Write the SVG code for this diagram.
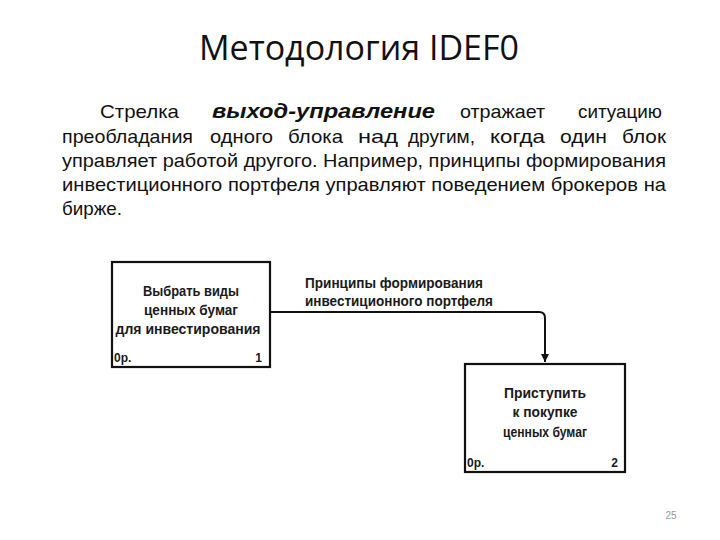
<svg xmlns="http://www.w3.org/2000/svg" width="720" height="540" viewBox="0 0 720 540">
<style>
.title{font-family:"Open Sans","Liberation Sans",sans-serif;font-size:34px;fill:#111}
.p{font-family:"Liberation Sans Narrow","Liberation Sans",sans-serif;font-size:19px;fill:#111}
.bi{font-weight:bold;font-style:italic;font-size:20px}
.box{fill:#fff;stroke:#111;stroke-width:2.2}
.bt{font-family:"Liberation Sans Narrow","Liberation Sans",sans-serif;font-size:15px;font-weight:bold;fill:#1a1a1a}
.sm{font-family:"Liberation Sans Narrow","Liberation Sans",sans-serif;font-size:12px;font-weight:bold;fill:#1a1a1a}
.conn{fill:none;stroke:#111;stroke-width:2}
.pg{font-family:"Liberation Sans",sans-serif;font-size:10px;fill:#999}
</style>
<defs>
<marker id="ah" viewBox="0 0 10 10" refX="10" refY="5" markerWidth="4" markerHeight="5" orient="auto" markerUnits="strokeWidth">
<path d="M0,0 L10,5 L0,10 z" fill="#111"/>
</marker>
</defs>
<rect width="720" height="540" fill="#fff"/>
<text class="title" x="199" y="60" textLength="320" lengthAdjust="spacingAndGlyphs">Методология IDEF0</text>
<g id="paragraph" class="p">
<text x="100" y="118" textLength="79" lengthAdjust="spacingAndGlyphs">Стрелка</text>
<text class="bi" x="212" y="118" textLength="223" lengthAdjust="spacingAndGlyphs">выход-управление</text>
<text x="460" y="118" textLength="85" lengthAdjust="spacingAndGlyphs">отражает</text>
<text x="578" y="118" textLength="84" lengthAdjust="spacingAndGlyphs">ситуацию</text>
<text x="62" y="143" textLength="131" lengthAdjust="spacingAndGlyphs">преобладания</text>
<text x="210" y="143" textLength="63" lengthAdjust="spacingAndGlyphs">одного</text>
<text x="288" y="143" textLength="55" lengthAdjust="spacingAndGlyphs">блока</text>
<text x="358" y="143" textLength="40" lengthAdjust="spacingAndGlyphs">над</text>
<text x="408" y="143" textLength="67" lengthAdjust="spacingAndGlyphs">другим,</text>
<text x="490" y="143" textLength="55" lengthAdjust="spacingAndGlyphs">когда</text>
<text x="560" y="143" textLength="47" lengthAdjust="spacingAndGlyphs">один</text>
<text x="622" y="143" textLength="44" lengthAdjust="spacingAndGlyphs">блок</text>
<text x="62" y="167" textLength="604" lengthAdjust="spacingAndGlyphs">управляет работой другого. Например, принципы формирования</text>
<text x="62" y="191" textLength="604" lengthAdjust="spacingAndGlyphs">инвестиционного портфеля управляют поведением брокеров на</text>
<text x="62" y="215" textLength="60" lengthAdjust="spacingAndGlyphs">бирже.</text>
</g>
<g id="connectors">
<path class="conn" d="M270,312 H539 Q545,312 545,318 V362" marker-end="url(#ah)"/>
<text class="bt" x="305" y="288" textLength="178" lengthAdjust="spacingAndGlyphs">Принципы формирования</text>
<text class="bt" x="305" y="306" textLength="188" lengthAdjust="spacingAndGlyphs">инвестиционного портфеля</text>
</g>
<g id="node1">
<rect class="box" x="112" y="262" width="158" height="105"/>
<text class="bt" x="191" y="296" text-anchor="middle" textLength="96" lengthAdjust="spacingAndGlyphs">Выбрать виды</text>
<text class="bt" x="191" y="315" text-anchor="middle" textLength="94" lengthAdjust="spacingAndGlyphs">ценных бумаг</text>
<text class="bt" x="188" y="334" text-anchor="middle" textLength="145" lengthAdjust="spacingAndGlyphs">для инвестирования</text>
<text class="sm" x="114" y="362">0р.</text>
<text class="sm" x="262" y="362" text-anchor="end">1</text>
</g>
<g id="node2">
<rect class="box" x="465" y="364" width="160" height="108"/>
<text class="bt" x="545" y="398" text-anchor="middle" textLength="82" lengthAdjust="spacingAndGlyphs">Приступить</text>
<text class="bt" x="545" y="417" text-anchor="middle" textLength="65" lengthAdjust="spacingAndGlyphs">к покупке</text>
<text class="bt" x="545" y="437" text-anchor="middle" textLength="84" lengthAdjust="spacingAndGlyphs">ценных бумаг</text>
<text class="sm" x="467" y="467">0р.</text>
<text class="sm" x="618" y="467" text-anchor="end">2</text>
</g>
<text class="pg" x="671" y="519" text-anchor="middle">25</text>
</svg>
